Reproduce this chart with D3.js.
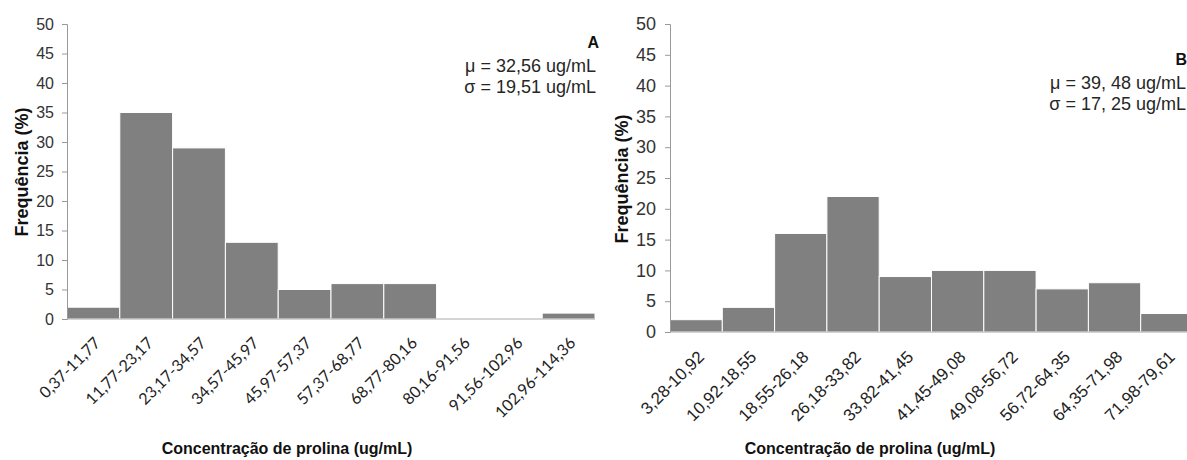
<!DOCTYPE html>
<html>
<head>
<meta charset="utf-8">
<script src="https://cdn.jsdelivr.net/npm/d3@7"></script>
<style>
  body { margin: 0; background: #fff; }
  svg { display: block; }
</style>
</head>
<body>
<script>
// Data
const binsA = ["0,37-11,77", "11,77-23,17", "23,17-34,57", "34,57-45,97", "45,97-57,37",
               "57,37-68,77", "68,77-80,16", "80,16-91,56", "91,56-102,96", "102,96-114,36"];
const freqA = [2, 35, 29, 13, 5, 6, 6, 0, 0, 1];

const binsB = ["3,28-10,92", "10,92-18,55", "18,55-26,18", "26,18-33,82", "33,82-41,45",
               "41,45-49,08", "49,08-56,72", "56,72-64,35", "64,35-71,98", "71,98-79,61"];
const freqB = [2, 4, 16, 22, 9, 10, 10, 7, 8, 3];

const yTicks = [0, 5, 10, 15, 20, 25, 30, 35, 40, 45, 50];

let width = 1187, height = 460;
const sans = 'Arial, "Liberation Sans", sans-serif';

let svg = d3.select('body')
    .append('svg')
    .attr('width', width)
    .attr('height', height);

function drawPanel(p) {
  const x = d3.scaleBand()
      .domain(p.bins)
      .range([p.left, p.right])
      .padding(0);

  const y = d3.scaleLinear()
      .domain([0, 50])
      .range([p.bottom, p.top]);

  let g = svg.append('g');

  // bars
  g.selectAll('rect')
      .data(p.bins.map((b, i) => ({bin: b, v: p.freq[i]})))
      .enter()
      .append('rect')
      .attr('x', d => x(d.bin))
      .attr('y', d => y(d.v))
      .attr('width', x.bandwidth())
      .attr('height', d => y(0) - y(d.v))
      .attr('fill', '#808080')
      .attr('stroke', '#fff')
      .attr('stroke-width', 1);

  // y axis
  let yAxis = g.append('g')
      .attr('transform', `translate(${p.left},0)`)
      .call(d3.axisLeft(y).tickValues(yTicks).tickSize(5).tickPadding(p.tickPad));
  yAxis.select('.domain').attr('stroke', '#999');
  yAxis.selectAll('.tick line').attr('stroke', '#999');
  yAxis.selectAll('text')
      .attr('fill', '#333')
      .style('font-family', sans)
      .style('font-size', p.tickSize);

  // x axis line
  g.append('line')
      .attr('x1', p.left).attr('x2', p.right)
      .attr('y1', y(0)).attr('y2', y(0))
      .attr('stroke', '#aaa');

  // rotated category labels
  g.selectAll('.xlab')
      .data(p.bins)
      .enter()
      .append('text')
      .attr('class', 'xlab')
      .attr('transform', d => `translate(${x(d) + x.bandwidth() / 2 + p.labDx},${p.bottom + p.labDy}) rotate(-45)`)
      .style('text-anchor', 'end')
      .style('font-family', p.labFont)
      .style('font-size', p.labSize)
      .attr('fill', '#222')
      .text(d => d);

  // axis titles
  g.append('text')
      .attr('transform', `translate(${p.ytX},${p.ytY}) rotate(-90)`)
      .style('text-anchor', 'middle')
      .style('font-family', sans)
      .style('font-size', '18px')
      .style('font-weight', 'bold')
      .attr('fill', '#111')
      .text('Frequência (%)');

  g.append('text')
      .attr('x', p.xtX).attr('y', 454)
      .style('text-anchor', 'middle')
      .style('font-family', sans)
      .style('font-size', '16px')
      .style('font-weight', 'bold')
      .attr('fill', '#111')
      .text('Concentração de prolina (ug/mL)');

  // panel letter and stats
  g.append('text')
      .attr('x', p.letterX).attr('y', p.letterY)
      .style('text-anchor', 'end')
      .style('font-family', sans)
      .style('font-size', '16px')
      .style('font-weight', 'bold')
      .attr('fill', '#111')
      .text(p.letter);

  p.stats.forEach((s, i) => {
    g.append('text')
        .attr('x', p.statX).attr('y', p.statY + i * 20.5)
        .style('text-anchor', 'end')
        .style('font-family', sans)
        .style('font-size', '18px')
        .attr('fill', '#262626')
        .text(s);
  });
}

drawPanel({
  bins: binsA, freq: freqA,
  left: 67, right: 595, top: 24, bottom: 319,
  tickSize: '16px', tickPad: 8,
  labDx: 8, labDy: 25, labFont: 'Lato, "Open Sans", sans-serif', labSize: '16px',
  ytX: 28, ytY: 172, xtX: 287,
  letter: 'A', letterX: 599, letterY: 48,
  stats: ['μ = 32,56 ug/mL', 'σ = 19,51 ug/mL'], statX: 596, statY: 72
});

drawPanel({
  bins: binsB, freq: freqB,
  left: 670, right: 1193, top: 24, bottom: 332,
  tickSize: '18px', tickPad: 9,
  labDx: 9, labDy: 26, labFont: sans, labSize: '17px',
  ytX: 628, ytY: 179, xtX: 870,
  letter: 'B', letterX: 1187, letterY: 65,
  stats: ['μ = 39, 48 ug/mL', 'σ = 17, 25 ug/mL'], statX: 1186, statY: 89
});
</script>
</body>
</html>
